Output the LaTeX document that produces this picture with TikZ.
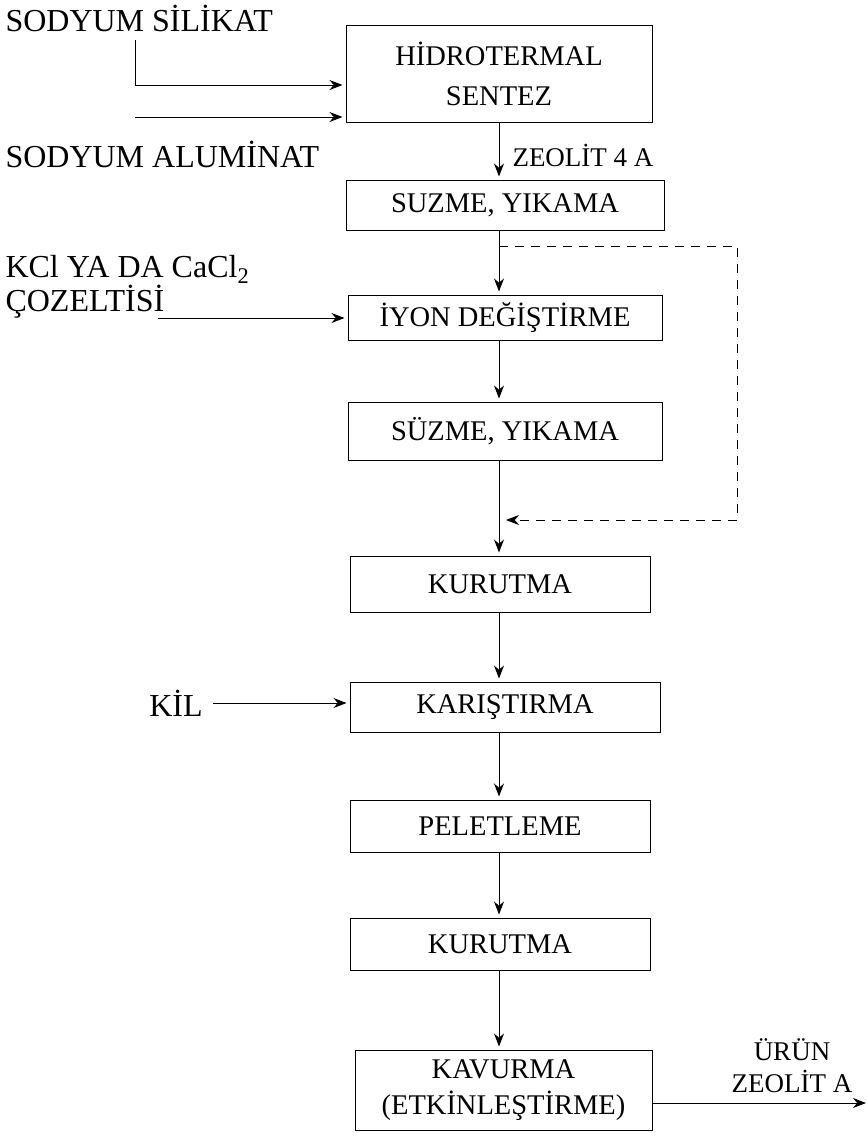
\documentclass[tikz,border=0pt]{standalone}
\usepackage{fontspec}
\setmainfont{Liberation Serif}
\usetikzlibrary{arrows.meta}

\begin{document}
\begin{tikzpicture}[x=1pt,y=-1pt,>={Stealth[length=13pt,width=10pt]},line width=1pt,
    stepbox/.style={draw,inner sep=0pt,align=center,font=\fontsize{28.5}{40}\selectfont},
    feed/.style={inner sep=0pt,align=left,font=\fontsize{32}{34}\selectfont},
    flow/.style={->,shorten >=3pt}]
  \useasboundingbox (0,0) rectangle (867,1141);
  \coordinate (col) at (499,0);
  % process steps
  \node[stepbox,minimum width=306,minimum height=97] (hidro) at (499,73.5) {HİDROTERMAL\\SENTEZ};
  \node[stepbox,minimum width=318,minimum height=50] (suz1) at (505,205) {SUZME, YIKAMA};
  \node[stepbox,minimum width=314,minimum height=45] (iyon) at (505,317.5) {İYON DEĞİŞTİRME};
  \node[stepbox,minimum width=314,minimum height=58] (suz2) at (505,431) {SÜZME, YIKAMA};
  \node[stepbox,minimum width=300,minimum height=56] (kur1) at (500,584) {KURUTMA};
  \node[stepbox,minimum width=310,minimum height=50] (kar) at (505,707) {KARIŞTIRMA};
  \node[stepbox,minimum width=300,minimum height=52] (pel) at (500,826) {PELETLEME};
  \node[stepbox,minimum width=300,minimum height=52] (kur2) at (500,944) {KURUTMA};
  \node[stepbox,minimum width=297,minimum height=80,font=\fontsize{28.5}{36}\selectfont] (kav) at (503.5,1090) {KAVURMA\\(ETKİNLEŞTİRME)};
  % feeds
  \node[feed,anchor=west] (sil) at (5,18) {SODYUM SİLİKAT};
  \node[feed,anchor=west] (alu) at (5,154) {SODYUM ALUMİNAT};
  \node[feed,anchor=west] (kcl) at (5,287) {KCl YA DA CaCl\textsubscript{2}\\ÇOZELTİSİ};
  \node[feed] (kil) at (176,703) {KİL};
  \node[feed,anchor=west,font=\fontsize{27}{30}\selectfont] (z4a) at (512,155) {ZEOLİT 4 A};
  \node[feed,align=center,font=\fontsize{27}{32}\selectfont] (urun) at (792,1066) {ÜRÜN\\ZEOLİT A};
  \coordinate (s1) at (135,40);
  \coordinate (s1b) at (135,85);
  \coordinate (s2) at (135,117);
  \coordinate (k1) at (158,318);
  \coordinate (d1) at (499,246);
  \coordinate (dr) at (737,520);
  \coordinate (d2) at (499,520);
  \coordinate (out) at (866,1103);
  \coordinate (o1) at (656,1103);

  \draw[flow] (s1) -- (s1b) -- (s1b -| hidro.west);
  \draw[flow] (s2) -- (s2 -| hidro.west);
  \draw[flow] (k1) -- (k1 -| iyon.west);
  \draw[flow] ([xshift=10pt]kil.east) -- (kil -| kar.west);

  \draw[flow] (hidro.south -| col) -- (suz1.north -| col);
  \draw[flow] (suz1.south -| col) -- (iyon.north -| col);
  \draw[flow] (iyon.south -| col) -- (suz2.north -| col);
  \draw[flow] (suz2.south -| col) -- (kur1.north -| col);
  \draw[flow] (kur1.south -| col) -- (kar.north -| col);
  \draw[flow] (kar.south -| col) -- (pel.north -| col);
  \draw[flow] (pel.south -| col) -- (kur2.north -| col);
  \draw[flow] (kur2.south -| col) -- (kav.north -| col);
  % bypass
  \draw[flow,dash pattern=on 9pt off 7pt,shorten >=7pt] (d1) -| (dr) -- (d2);
  \draw[->] (o1 -| kav.east) -- (out);
\end{tikzpicture}
\end{document}
